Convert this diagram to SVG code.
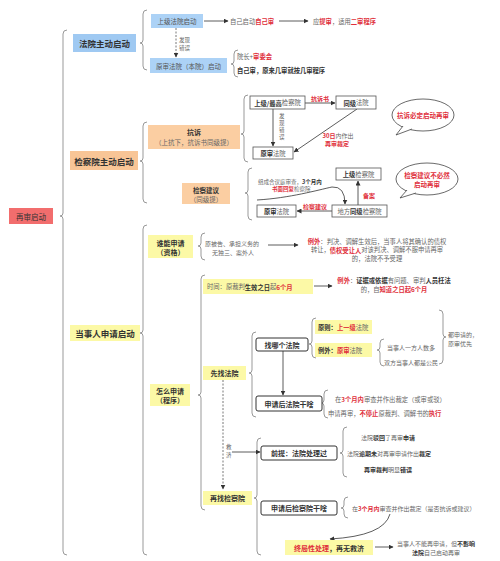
<svg xmlns="http://www.w3.org/2000/svg" width="500" height="561" viewBox="0 0 500 561">
<defs>
<style>
text{font-family:"Noto Sans CJK SC","Noto Sans",sans-serif;font-size:6.3px;fill:#666;dominant-baseline:central}
.c{text-anchor:middle}
.b{font-weight:bold;fill:#333}
.r{font-weight:bold;fill:#e02f3b}
.L1{font-size:8.5px;font-weight:bold;fill:#333}
.m{font-size:7px}
.s{font-size:5.5px}
.blue1{fill:#9fc9f2}
.blue2{fill:#acd2f6}
.or1{fill:#f8c596}
.or2{fill:#fbcea2}
.ye{fill:#fcf9a6}
.wb{fill:#fff;stroke:#555;stroke-width:0.8}
.db{fill:#fff;stroke:#333;stroke-width:1}
.br{fill:none;stroke:#999;stroke-width:1}
.ar{fill:none;stroke:#333;stroke-width:0.8;marker-end:url(#ah)}
.da{fill:none;stroke:#555;stroke-width:0.8;stroke-dasharray:2 1.5;marker-end:url(#ah)}
.bub{fill:#fff;stroke:#444;stroke-width:0.8}
</style>
<marker id="ah" viewBox="0 0 10 10" refX="9" refY="5" markerWidth="5" markerHeight="5" markerUnits="userSpaceOnUse" orient="auto"><path d="M0,0 L10,5 L0,10 z" fill="#333"/></marker>
</defs>
<rect width="500" height="561" fill="#fff"/>

<g id="connectors">
<path class="br" d="M67 30 Q63 30 63 34 L63 213 Q63 216 60 216 Q63 216 63 219 L63 551 Q63 555 67 555"/>
<path class="br" d="M147 10 Q143 10 143 14 L143 40 Q143 43 140 43 Q143 43 143 46 L143 66 Q143 70 147 70"/>
<path class="br" d="M147 122 Q143 122 143 126 L143 158 Q143 161 140 161 Q143 161 143 164 L143 199 Q143 203 147 203"/>
<path class="br" d="M147 225 Q143 225 143 229 L143 330 Q143 333 140 333 Q143 333 143 336 L143 551 Q143 555 147 555"/>
<path class="br" d="M238 50 Q234 50 234 54 L234 61 Q234 64 231 64 Q234 64 234 67 L234 73 Q234 77 238 77"/>
<path class="br" d="M248 95 Q244 95 244 99 L244 131 Q244 134 241 134 Q244 134 244 137 L244 158 Q244 162 248 162"/>
<path class="br" d="M252 168 Q248 168 248 172 L248 190 Q248 193 245 193 Q248 193 248 196 L248 216 Q248 220 252 220"/>
<path class="br" d="M205 233 Q201 233 201 237 L201 243 Q201 246 198 246 Q201 246 201 249 L201 256 Q201 260 205 260"/>
<path class="br" d="M205 275 Q201 275 201 279 L201 392 Q201 395 198 395 Q201 395 201 398 L201 506 Q201 510 205 510"/>
<path class="br" d="M256 332 Q252 332 252 336 L252 370 Q252 373 249 373 Q252 373 252 376 L252 413 Q252 417 256 417"/>
<path class="br" d="M316 318 Q312 318 312 322 L312 341 Q312 344 309 344 Q312 344 312 347 L312 354 Q312 358 316 358"/>
<path class="br" d="M384 339 Q380 339 380 343 L380 347 Q380 350 377 350 Q380 350 380 353 L380 362 Q380 366 384 366"/>
<path class="br" d="M439 310 Q443 310 443 314 L443 334 Q443 337 446 337 Q443 337 443 340 L443 360 Q443 364 439 364"/>
<path class="br" d="M328 390 Q324 390 324 394 L324 400 Q324 403 321 403 Q324 403 324 406 L324 414 Q324 418 328 418"/>
<path class="br" d="M261 438 Q257 438 257 442 L257 495 Q257 498 254 498 Q257 498 257 501 L257 551 Q257 555 261 555"/>
<path class="br" d="M347 427 Q343 427 343 431 L343 450 Q343 453 340 453 Q343 453 343 456 L343 473 Q343 477 347 477"/>
<path class="br" d="M348 497 Q344 497 344 501 L344 505 Q344 508 341 508 Q344 508 344 511 L344 514 Q344 518 348 518"/>

<line class="ar" x1="204" y1="21" x2="228" y2="21"/>
<line class="ar" x1="279" y1="21" x2="308" y2="21"/>
<line class="da" x1="176" y1="28" x2="176" y2="57"/>
<line class="ar" x1="305" y1="103" x2="335" y2="103"/>
<line class="ar" x1="273" y1="109" x2="273" y2="146"/>
<line class="ar" x1="357" y1="109" x2="294" y2="152"/>
<line class="ar" x1="332" y1="211" x2="297" y2="211"/>
<line class="ar" x1="358" y1="205" x2="358" y2="181"/>
<path class="ar" d="M257 200 C290 198 318 190 332 187 Q345 186 345 204"/>
<line class="ar" x1="268" y1="245" x2="298" y2="245"/>
<line class="ar" x1="314" y1="286" x2="332" y2="286"/>
<line class="ar" x1="283" y1="351" x2="283" y2="395"/>
<line class="da" x1="223" y1="380" x2="223" y2="489"/>
<line class="ar" x1="232" y1="452" x2="260" y2="452"/>
<path class="ar" d="M390 514 Q384 536 330 539"/>
<line class="ar" x1="375" y1="547" x2="393" y2="547"/>
</g>

<g id="root">
<rect x="9" y="208" width="44" height="16" fill="#f26d6d"/>
<text class="c" x="31" y="216" style="font-size:7.5px;fill:#333">再审启动</text>
</g>

<g id="court-start">
<rect class="blue1" x="73" y="34" width="63" height="18"/>
<text class="c L1" x="104.5" y="43">法院主动启动</text>
</g>
<g id="procuratorate-start">
<rect class="or1" x="70" y="151" width="68" height="19"/>
<text class="c L1" x="104" y="160.5">检察院主动启动</text>
</g>
<g id="party-start">
<rect class="ye" x="70" y="325" width="70" height="16"/>
<text class="c L1" x="105" y="333">当事人申请启动</text>
</g>

<g id="superior-court">
<rect class="blue2" x="151" y="14" width="52" height="14"/>
<text class="c" x="177" y="21" style="font-size:6.5px;fill:#555">上级法院启动</text>
<text x="230" y="21">自己启动<tspan class="r">自己审</tspan></text>
<text x="313" y="21">应<tspan class="r">提审</tspan>，适用<tspan class="r">二审程序</tspan></text>
<text class="s" x="179" y="40">发现</text>
<text class="s" x="179" y="48">错误</text>
</g>
<g id="original-court">
<rect class="blue2" x="150" y="58" width="77" height="15"/>
<text class="c" x="188.5" y="65.5" style="font-size:6.5px;fill:#555">原审法院（本院）启动</text>
<text x="237" y="56">院长+<tspan class="r">审委会</tspan></text>
<text class="b" x="237" y="70">自己审，原来几审就按几审程序</text>
</g>

<g id="protest">
<rect class="or2" x="148" y="125" width="92" height="24"/>
<text class="c b m" x="194" y="131.5">抗诉</text>
<text class="c" x="194" y="142" style="font-size:6.5px">（上抗下，抗诉书同级提）</text>
</g>
<g id="protest-diagram">
<rect class="wb" x="250" y="96" width="55" height="13"/>
<text class="c" x="277.5" y="102.5"><tspan class="b">上级/最高</tspan>检察院</text>
<rect class="wb" x="336" y="96" width="40" height="13"/>
<text class="c" x="356" y="102.5"><tspan class="b">同级</tspan>法院</text>
<text class="c r" x="320" y="98.5" style="font-size:6px">抗诉书</text>
<text class="s" x="279" y="116">发</text>
<text class="s" x="279" y="123">现</text>
<text class="s" x="279" y="130">错</text>
<text class="s" x="279" y="137">误</text>
<rect class="wb" x="253" y="147" width="40" height="12"/>
<text class="c" x="273" y="153"><tspan class="b">原审</tspan>法院</text>
<text class="c" x="338" y="135" style="font-size:6px"><tspan class="r">30日</tspan>内作出</text>
<text class="c r" x="337" y="143" style="font-size:6px">再审裁定</text>
</g>
<g id="bubble-protest">
<ellipse class="bub" cx="423" cy="115" rx="31" ry="16"/>
<path class="bub" d="M403 126 L396 135 L412 129"/>
<text class="c r" x="423" y="115" style="font-size:6.5px">抗诉必定启动再审</text>
</g>

<g id="suggestion">
<rect class="or2" x="182" y="183" width="48" height="21"/>
<text class="c b" x="206" y="189.5" style="font-size:6.5px">检察建议</text>
<text class="c" x="206" y="198.5" style="font-size:6.5px">（同级提）</text>
</g>
<g id="suggestion-diagram">
<rect class="wb" x="336" y="168" width="45" height="12"/>
<text class="c" x="358.5" y="174"><tspan class="b">上级</tspan>检察院</text>
<rect class="wb" x="332" y="205" width="55" height="12"/>
<text class="c" x="359.5" y="211">地方<tspan class="b">同级</tspan>检察院</text>
<rect class="wb" x="257" y="205" width="39" height="12"/>
<text class="c" x="276.5" y="211"><tspan class="b">原审</tspan>法院</text>
<text class="c r" x="315" y="206" style="font-size:6px">检察建议</text>
<text class="r" x="363" y="195" style="font-size:6px">备案</text>
<text x="258" y="182" style="font-size:5.5px">组成合议庭审查，<tspan class="b">3个月内</tspan></text>
<text x="272" y="189" style="font-size:5.5px"><tspan class="r">书面回复</tspan>检察院</text>
</g>
<g id="bubble-suggestion">
<ellipse class="bub" cx="427" cy="179" rx="31" ry="16"/>
<path class="bub" d="M407 190 L400 198 L416 193"/>
<text class="c r" x="427" y="175" style="font-size:6.5px">检察建议不必然</text>
<text class="c r" x="427" y="184" style="font-size:6.5px">启动再审</text>
</g>

<g id="who-apply">
<rect class="ye" x="148" y="235" width="45" height="23"/>
<text class="c b m" x="170.5" y="242.5">谁能申请</text>
<text class="c b m" x="170.5" y="252">（资格）</text>
<text x="205" y="243" style="font-size:6px">原被告、承担义务的</text>
<text x="212" y="252" style="font-size:6px">无独三、案外人</text>
<text class="c" x="377" y="241"><tspan class="r">例外</tspan>：判决、调解生效后，当事人将其确认的债权</text>
<text class="c" x="377" y="249.5">转让，<tspan class="r">债权受让人</tspan>对该判决、调解不服申请再审</text>
<text class="c" x="377" y="258">的，法院不予受理</text>
</g>

<g id="how-apply">
<rect class="ye" x="150" y="384" width="40" height="22"/>
<text class="c b m" x="170" y="390.5">怎么申请</text>
<text class="c b m" x="170" y="400">（程序）</text>
</g>
<g id="time">
<rect class="ye" x="203" y="279" width="110" height="15"/>
<text x="207" y="286.5">时间：原裁判<tspan class="b">生效之日</tspan>起<tspan class="r">6个月</tspan></text>
<text class="c" x="394" y="280"><tspan class="r">例外</tspan>：<tspan class="b">证据或依据</tspan>有问题、审判<tspan class="b">人员枉法</tspan></text>
<text class="c" x="394" y="289">的，自<tspan class="r">知道之日起6个月</tspan></text>
</g>

<g id="find-court">
<rect class="ye" x="203" y="366" width="43" height="14"/>
<text class="c b m" x="224.5" y="373">先找法院</text>
</g>
<g id="which-court">
<rect class="db" x="256" y="338" width="52" height="13" rx="2"/>
<text class="c b m" x="282" y="344.5">找哪个法院</text>
</g>
<g id="principle">
<rect class="ye" x="315" y="320" width="57" height="14"/>
<text x="318" y="327"><tspan class="b">原则：</tspan><tspan class="r">上一级</tspan>法院</text>
</g>
<g id="exception">
<rect class="ye" x="315" y="343" width="57" height="14"/>
<text x="318" y="350"><tspan class="b">例外：</tspan><tspan class="r">原审</tspan>法院</text>
<text x="387" y="347" style="font-size:6px">当事人一方人数多</text>
<text x="384" y="362" style="font-size:6px">双方当事人都是公民</text>
<text x="448" y="334" style="font-size:6px">都申请的，</text>
<text x="448" y="343" style="font-size:6px">原审优先</text>
</g>
<g id="court-after">
<rect class="db" x="256" y="396" width="66" height="15" rx="2"/>
<text class="c b m" x="289" y="403.5">申请后法院干啥</text>
<text x="335" y="399">在<tspan class="r">3个月内</tspan>审查并作出裁定（或审或驳）</text>
<text x="328" y="413">申请再审，<tspan class="r">不停止</tspan>原裁判、调解书的<tspan class="r">执行</tspan></text>
</g>

<g id="relief-label">
<text class="s" x="226" y="447">救</text>
<text class="s" x="226" y="455">济</text>
</g>

<g id="find-procuratorate">
<rect class="ye" x="203" y="491" width="49" height="14"/>
<text class="c b m" x="227.5" y="498">再找检察院</text>
</g>
<g id="premise">
<rect class="db" x="261" y="446" width="76" height="14" rx="2"/>
<text class="c b m" x="299" y="453">前提：法院处理过</text>
<text class="c" x="388" y="437" style="font-size:6px">法院<tspan class="b">驳回</tspan>了再审<tspan class="b">申请</tspan></text>
<text class="c" x="389" y="453" style="font-size:6px">法院<tspan class="b">逾期未</tspan>对再审申请作出<tspan class="b">裁定</tspan></text>
<text class="c" x="388" y="469" style="font-size:6px"><tspan class="b">再审裁判</tspan>明显<tspan class="b">错误</tspan></text>
</g>
<g id="procuratorate-after">
<rect class="db" x="261" y="501" width="76" height="14" rx="2"/>
<text class="c b m" x="299" y="508">申请后检察院干啥</text>
<text x="352" y="508" style="font-size:6px">在<tspan class="r">3个月内</tspan>审查并作出裁定（是否抗诉或建议）</text>
</g>
<g id="final">
<rect class="ye" x="285" y="540" width="88" height="15"/>
<text class="c m" x="329" y="547.5"><tspan class="r">终局性处理</tspan><tspan class="b">，再无救济</tspan></text>
<text class="c" x="436" y="543" style="font-size:6px">当事人不能再申请，但<tspan class="b">不影响</tspan></text>
<text class="c" x="436" y="552" style="font-size:6px"><tspan class="b">法院</tspan>自己启动再审</text>
</g>
</svg>
